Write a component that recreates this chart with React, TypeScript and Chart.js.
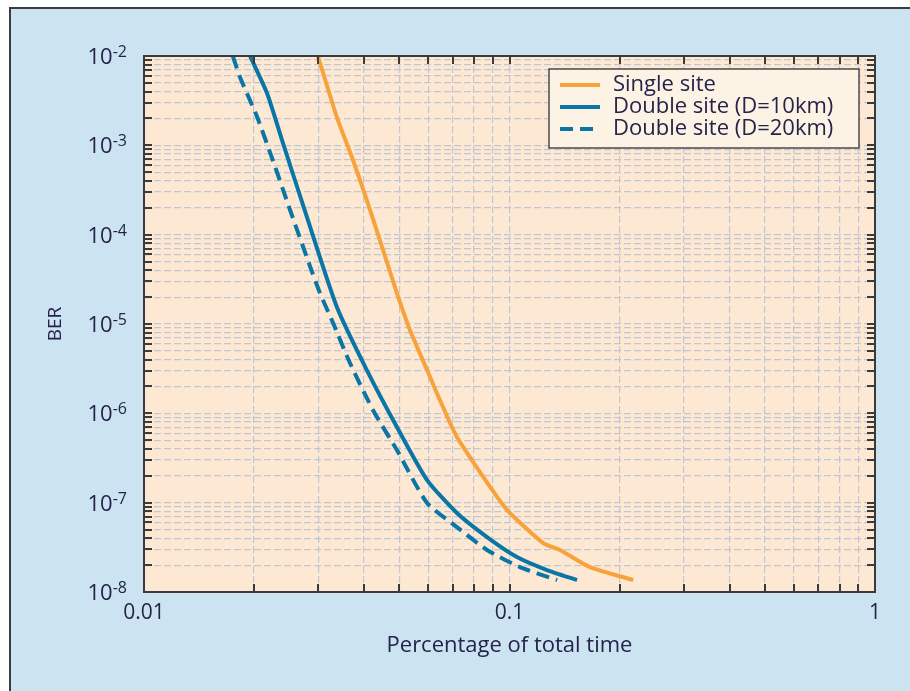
import React, { useEffect, useRef } from 'react';
import { Chart, registerables } from 'chart.js';

Chart.register(...registerables);

// ---- data ----
const singleX = [0.0299, 0.0337, 0.0373, 0.0407, 0.0451, 0.0492, 0.0534, 0.0595, 0.0645, 0.0718, 0.0885, 0.0985, 0.1236, 0.1375, 0.166, 0.218];
const singleY = [1e-2, 2.07e-3, 6.85e-4, 2.44e-4, 6.73e-5, 2.22e-5, 8.57e-6, 3.05e-6, 1.41e-6, 5.43e-7, 1.5e-7, 8.27e-8, 3.53e-8, 2.95e-8, 1.9e-8, 1.36e-8];

const double10X = [0.0195, 0.0217, 0.024, 0.0279, 0.0337, 0.0407, 0.0492, 0.0595, 0.0718, 0.0868, 0.1048, 0.1266, 0.153];
const double10Y = [1e-2, 3.85e-3, 1.06e-3, 1.58e-4, 1.55e-5, 3.05e-6, 7.03e-7, 1.79e-7, 7.66e-8, 4.12e-8, 2.46e-8, 1.76e-8, 1.36e-8];

const double20X = [0.0175, 0.0183, 0.0204, 0.0225, 0.0251, 0.0285, 0.0303, 0.0329, 0.0366, 0.0423, 0.0492, 0.0595, 0.0718, 0.0868, 0.1068, 0.135];
const double20Y = [1e-2, 5.82e-3, 2.07e-3, 6.85e-4, 1.89e-4, 4.35e-5, 2.22e-5, 1.03e-5, 3.66e-6, 1.09e-6, 3.88e-7, 9.9e-8, 5.33e-8, 2.95e-8, 1.9e-8, 1.36e-8];

const seriesLabels = ['Single site', 'Double site (D=10km)', 'Double site (D=20km)'];

const xDecades = [-2, -1, 0];
const xTickLabels = ['0.01', '0.1', '1'];
const yDecades = [-8, -7, -6, -5, -4, -3, -2];
const yTickExponents = ['-8', '-7', '-6', '-5', '-4', '-3', '-2'];

const xTitle = 'Percentage of total time';
const yTitle = 'BER';

// ---- styles ----
const ORANGE = '#f7a23b';
const BLUE = '#0b76a5';
const PLOT_BG = '#fde9d3';
const LEGEND_BG = '#fdf3e5';
const GRID = '#c2c6d0';
const FRAME = '#3a3a3a';
const TEXT = '#25234a';
const FONT = "'Open Sans', 'DejaVu Sans', sans-serif";

function logTicks(decades: number[]) {
  const out: number[] = [];
  for (let i = 0; i < decades.length - 1; i++) {
    for (let m = 1; m <= 9; m++) out.push(Number((m * Math.pow(10, decades[i])).toPrecision(3)));
  }
  out.push(Math.pow(10, decades[decades.length - 1]));
  return out;
}

const xTickValues = logTicks(xDecades);
const yTickValues = logTicks(yDecades);

const toPoints = (xs: number[], ys: number[]) => xs.map((x, i) => ({ x, y: ys[i] }));

const decorPlugin = {
  id: 'decor',
  beforeDraw(chart: any) {
    const { ctx, chartArea: a } = chart;
    ctx.save();
    ctx.fillStyle = PLOT_BG;
    ctx.fillRect(a.left, a.top, a.right - a.left, a.bottom - a.top);
    ctx.restore();
  },
  afterDatasetsDraw(chart: any) {
    const { ctx, chartArea: a, scales } = chart;
    const tl = 8;
    ctx.save();
    ctx.strokeStyle = FRAME;
    ctx.lineWidth = 2;
    ctx.beginPath();
    for (const t of scales.x.ticks) {
      const p = Math.round(scales.x.getPixelForValue(t.value));
      if (p <= a.left + 1 || p >= a.right - 1) continue;
      ctx.moveTo(p, a.bottom); ctx.lineTo(p, a.bottom - tl);
      ctx.moveTo(p, a.top); ctx.lineTo(p, a.top + tl);
    }
    for (const t of scales.y.ticks) {
      const p = Math.round(scales.y.getPixelForValue(t.value));
      if (p <= a.top + 1 || p >= a.bottom - 1) continue;
      ctx.moveTo(a.left, p); ctx.lineTo(a.left + tl, p);
      ctx.moveTo(a.right, p); ctx.lineTo(a.right - tl, p);
    }
    ctx.stroke();
    ctx.lineWidth = 2;
    ctx.strokeRect(a.left, a.top, a.right - a.left, a.bottom - a.top);
    ctx.restore();
  },
  afterDraw(chart: any) {
    const { ctx, chartArea: a, scales } = chart;
    ctx.save();
    // y tick labels with superscript exponents
    ctx.fillStyle = TEXT;
    ctx.textBaseline = 'alphabetic';
    ctx.textAlign = 'left';
    const xEnd = a.left - 17;
    yDecades.forEach((d, i) => {
      const y = scales.y.getPixelForValue(Math.pow(10, d));
      ctx.font = `16px ${FONT}`;
      const exp = yTickExponents[i];
      const we = ctx.measureText(exp).width;
      ctx.font = `22px ${FONT}`;
      const wb = ctx.measureText('10').width;
      ctx.fillText('10', xEnd - we - wb, y + 8);
      ctx.font = `16px ${FONT}`;
      ctx.fillText(exp, xEnd - we, y + 1);
    });

    // legend
    const lw = 310, lh = 79;
    const lx = a.right - 16 - lw;
    const ly = a.top + 13;
    ctx.fillStyle = LEGEND_BG;
    ctx.fillRect(lx, ly, lw, lh);
    ctx.strokeStyle = '#4a4a4a';
    ctx.lineWidth = 1.5;
    ctx.strokeRect(lx, ly, lw, lh);
    ctx.font = `22px ${FONT}`;
    ctx.textBaseline = 'middle';
    chart.data.datasets.forEach((ds: any, i: number) => {
      const cy = ly + 16 + i * 22;
      ctx.save();
      ctx.strokeStyle = ds.borderColor;
      ctx.lineWidth = 4;
      ctx.setLineDash(ds.borderDash || []);
      ctx.beginPath();
      ctx.moveTo(lx + 11, cy);
      ctx.lineTo(lx + 51, cy);
      ctx.stroke();
      ctx.restore();
      ctx.fillStyle = TEXT;
      ctx.fillText(ds.label, lx + 64, cy);
    });
    ctx.restore();
  },
};

export default function App() {
  const ref = useRef<HTMLCanvasElement | null>(null);
  useEffect(() => {
    if (!ref.current) return;
    const common = { borderWidth: 4, pointRadius: 0, tension: 0.2 };
    const chart = new Chart(ref.current, {
      type: 'line',
      data: {
        datasets: [
          {
            label: seriesLabels[0],
            data: toPoints(singleX, singleY),
            borderColor: ORANGE,
            backgroundColor: ORANGE,
            ...common,
          },
          {
            label: seriesLabels[1],
            data: toPoints(double10X, double10Y),
            borderColor: BLUE,
            backgroundColor: BLUE,
            ...common,
          },
          {
            label: seriesLabels[2],
            data: toPoints(double20X, double20Y),
            borderColor: BLUE,
            backgroundColor: BLUE,
            borderDash: [13, 7],
            ...common,
          },
        ] as any,
      },
      options: {
        animation: false,
        responsive: false,
        devicePixelRatio: 1,
        layout: { padding: { top: 56, right: 35, left: 0, bottom: 0 } },
        plugins: { legend: { display: false }, tooltip: { enabled: false } },
        scales: {
          x: {
            type: 'logarithmic',
            min: 0.01,
            max: 1,
            afterBuildTicks: (s: any) => { s.ticks = xTickValues.map((v) => ({ value: v })); },
            afterFit: (s: any) => { s.height = 99; },
            grid: { color: GRID, lineWidth: 1.2, drawTicks: false },
            border: { display: false, dash: [7, 3] },
            ticks: {
              autoSkip: false,
              maxRotation: 0,
              padding: 8,
              color: TEXT,
              font: { family: FONT, size: 21 },
              callback: (v: any) => {
                const i = xDecades.findIndex((d) => Math.abs(Math.log10(Number(v)) - d) < 1e-6);
                return i >= 0 ? xTickLabels[i] : '';
              },
            },
            title: {
              display: true,
              text: xTitle,
              color: TEXT,
              font: { family: FONT, size: 22 },
              padding: { top: 0, bottom: 32 },
            },
          },
          y: {
            type: 'logarithmic',
            min: 1e-8,
            max: 1e-2,
            afterBuildTicks: (s: any) => { s.ticks = yTickValues.map((v) => ({ value: v })); },
            afterFit: (s: any) => { s.width = 144; },
            grid: { color: GRID, lineWidth: 1.2, drawTicks: false },
            border: { display: false, dash: [7, 3] },
            ticks: { display: false },
            title: {
              display: true,
              text: yTitle,
              color: TEXT,
              font: { family: FONT, size: 19 },
              padding: { top: 44, bottom: 0 },
            },
          },
        },
      } as any,
      plugins: [decorPlugin],
    });
    return () => chart.destroy();
  }, []);

  return (
    <div style={{ position: 'fixed', left: 0, top: 0, width: 910, height: 691, background: '#ffffff', overflow: 'hidden' }}>
      <div
        style={{
          position: 'absolute',
          left: 9,
          top: 7,
          right: -10,
          bottom: -10,
          background: '#cce3f1',
          borderTop: '2px solid #3d3d3d',
          borderLeft: '2px solid #3d3d3d',
        }}
      />
      <canvas ref={ref} width={910} height={691} style={{ position: 'absolute', left: 0, top: 0, width: 910, height: 691 }} />
    </div>
  );
}
